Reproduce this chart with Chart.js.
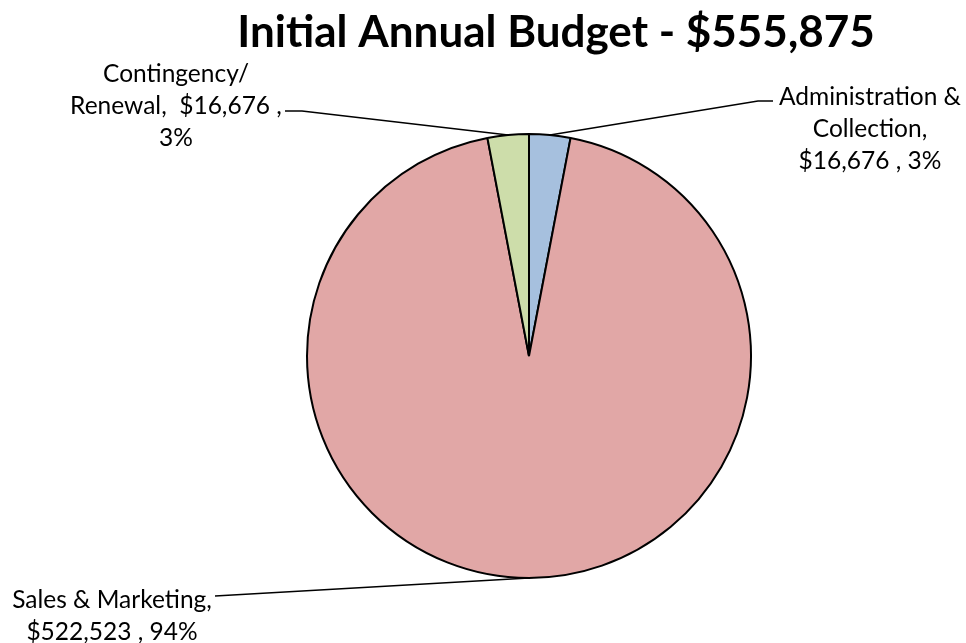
<!DOCTYPE html>
<html lang="en">
<head>
  <meta charset="UTF-8" />
  <title>Initial Annual Budget</title>
  <script src="https://cdn.jsdelivr.net/npm/chart.js"></script>
  <style>
    html, body {
      margin: 0;
      padding: 0;
      background: #fff;
    }
    #wrap {
      width: 966px;
      height: 643px;
    }
  </style>
</head>
<body>
  <div id="wrap"><canvas id="budgetChart" width="966" height="643"></canvas></div>

  <script>
    const chartTitle = 'Initial Annual Budget - $555,875';
    const categories = ['Administration & Collection', 'Sales & Marketing', 'Contingency/ Renewal'];
    const amounts = [16676, 522523, 16676];
    const percents = ['3%', '94%', '3%'];
    const sliceColors = ['#A6C0DE', '#E1A7A6', '#CDDDAA'];

    // label text lines and where the leader line meets them
    const labelLines = [
      ['Administration &', 'Collection,', '$16,676 , 3%'],
      ['Sales & Marketing,', '$522,523 , 94%'],
      ['Contingency/', 'Renewal,  $16,676 ,', '3%']
    ];
    const labelLayout = [
      { x: 870, y: 97, elbow: [758, 101], end: [773, 101] },
      { x: 112, y: 600, elbow: null, end: [215, 596] },
      { x: 176, y: 74, elbow: [302, 111], end: [285, 111] }
    ];

    const FONT = 'Lato, "Open Sans", sans-serif';

    const labelPlugin = {
      id: 'leaderLabels',
      afterDraw(chart) {
        const ctx = chart.ctx;
        ctx.save();

        // title
        ctx.fillStyle = '#000';
        ctx.font = 'bold 44px ' + FONT;
        ctx.textAlign = 'center';
        ctx.textBaseline = 'middle';
        ctx.fillText(chartTitle, 556, 33);

        const arcs = chart.getDatasetMeta(0).data;
        arcs.forEach((arc, i) => {
          const p = arc.getProps(['x', 'y', 'startAngle', 'endAngle', 'outerRadius'], true);
          const mid = (p.startAngle + p.endAngle) / 2;
          const sx = p.x + Math.cos(mid) * p.outerRadius;
          const sy = p.y + Math.sin(mid) * p.outerRadius;
          const lay = labelLayout[i];

          ctx.strokeStyle = '#000';
          ctx.lineWidth = 1.5;
          ctx.beginPath();
          ctx.moveTo(sx, sy);
          if (lay.elbow) ctx.lineTo(lay.elbow[0], lay.elbow[1]);
          ctx.lineTo(lay.end[0], lay.end[1]);
          ctx.stroke();

          ctx.font = '24.5px ' + FONT;
          ctx.fillStyle = '#000';
          labelLines[i].forEach((t, k) => {
            ctx.fillText(t, lay.x, lay.y + k * 32);
          });
        });
        ctx.restore();
      }
    };

    const ctx = document.getElementById('budgetChart').getContext('2d');
    new Chart(ctx, {
      type: 'pie',
      data: {
        labels: categories,
        datasets: [{
          data: amounts,
          backgroundColor: sliceColors,
          borderColor: '#000',
          borderWidth: 2
        }]
      },
      options: {
        responsive: false,
        animation: false,
        rotation: 0,
        layout: {
          padding: { left: 306, right: 214, top: 133, bottom: 64 }
        },
        plugins: {
          legend: { display: false },
          title: { display: false },
          tooltip: { enabled: false }
        }
      },
      plugins: [labelPlugin]
    });
  </script>
</body>
</html>
